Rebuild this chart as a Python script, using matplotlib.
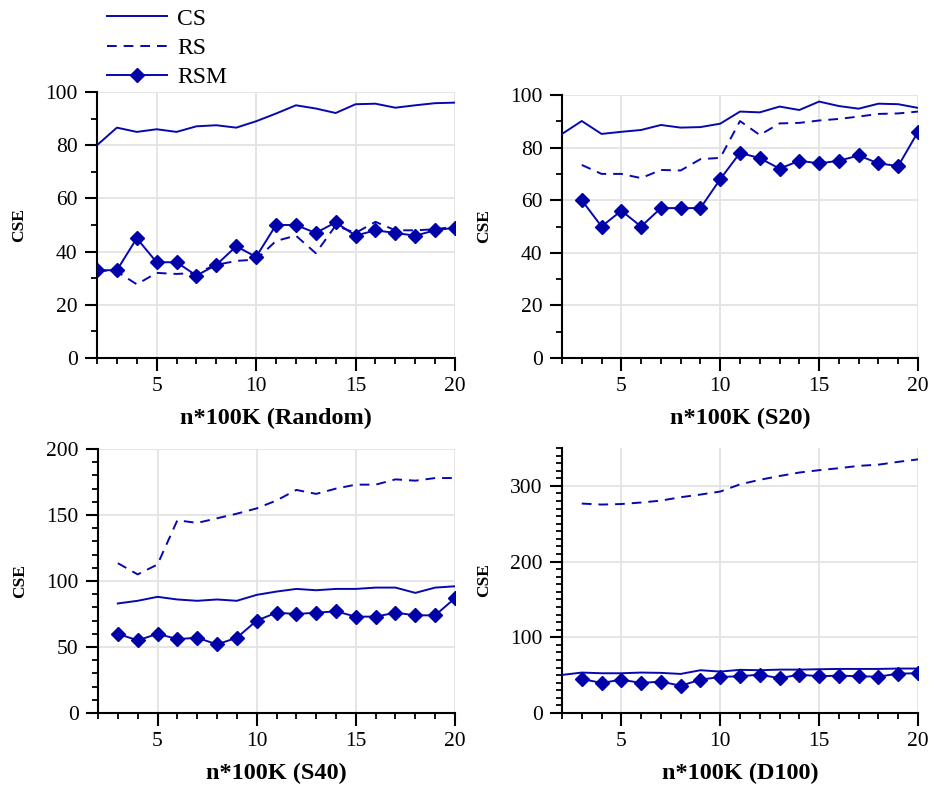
import matplotlib
matplotlib.use("Agg")
import matplotlib.pyplot as plt
from matplotlib.ticker import MultipleLocator
from matplotlib.lines import Line2D

plt.rcParams['font.family'] = ['Liberation Serif', 'DejaVu Serif']
plt.rcParams['lines.scale_dashes'] = False

x_all = list(range(2, 21))
x_from3 = list(range(3, 21))

# Panel 1: Random
rand_cs = [80, 86.6, 85, 86, 85, 87.1, 87.5, 86.6, 89, 91.9, 95, 93.8, 92.1, 95.4, 95.6, 94.1, 95, 95.8, 96]
rand_rs = [33, 32.5, 27.7, 32, 31.6, 32, 35, 36.5, 37, 44, 46, 39.4, 49.8, 47, 51.2, 48, 48, 48.4, 49.4]
rand_rsm = [33, 33, 45, 36, 36, 31, 35, 42, 38, 50, 50, 47, 51, 46, 48, 47, 46, 48, 49]

# Panel 2: S20
s20_cs = [85.2, 90.1, 85.2, 86, 86.7, 88.6, 87.6, 87.8, 89.1, 93.7, 93.4, 95.6, 94.3, 97.5, 95.8, 94.8, 96.7, 96.5, 95.1]
s20_rs = [73.4, 70, 70, 68.4, 71.5, 71.3, 75.6, 76.1, 90.1, 84.8, 89.2, 89.4, 90.3, 90.9, 91.8, 92.8, 93, 93.7]
s20_rsm = [60, 50, 56, 50, 57, 57, 57, 68, 78, 76, 72, 75, 74, 75, 77, 74, 73, 86]

# Panel 3: S40
s40_cs = [83, 85, 88, 86, 85, 86, 85, 89.5, 92, 94, 93, 94, 94, 95, 95, 91, 95, 96]
s40_rs = [113.5, 105, 112.5, 146, 144, 147.5, 151, 155, 161, 169, 166, 170, 173, 173, 177, 176, 178, 178]
s40_rsm = [60, 55, 60, 56, 57, 52, 57, 70, 76, 75, 76, 77, 73, 73, 76, 74, 74, 87]

# Panel 4: D100
d100_cs = [50.3, 53.4, 52.5, 52.5, 53.4, 53, 51.6, 56.5, 54.7, 57, 56.5, 57.3, 57.3, 57.8, 58.2, 58.2, 58.2, 58.7, 58.7]
d100_rs = [276.6, 275.3, 276, 278, 280.5, 285, 288.5, 292.5, 302, 308, 313, 317.6, 320.7, 323.3, 326.4, 328, 331.7, 335]
d100_rsm = [45, 39.7, 44, 39.7, 41.5, 36, 44, 47.6, 48.5, 50.7, 45.9, 50.7, 48.5, 49.4, 48.5, 48, 52, 52.5]

xlabels = ["n*100K (Random)", "n*100K (S20)", "n*100K (S40)", "n*100K (D100)"]
ylabel = "CSE"
legend_labels = ["CS", "RS", "RSM"]

COLOR = '#0707b0'
MCOLOR = '#0000a8'
DASH = (0, (7, 5))

W, H = 934, 789
fig = plt.figure(figsize=(W / 100, H / 100), dpi=100)

def rect(l, r, t, b):
    return [l / W, 1 - b / H, (r - l) / W, (b - t) / H]

panels = [
    dict(rect=rect(97, 455, 92, 358), cs=(x_all, rand_cs), rs=(x_all, rand_rs), rsm=(x_all, rand_rsm),
         ylim=(0, 100), major=20, minor=10),
    dict(rect=rect(562, 918, 95, 358), cs=(x_all, s20_cs), rs=(x_from3, s20_rs), rsm=(x_from3, s20_rsm),
         ylim=(0, 100), major=20, minor=10),
    dict(rect=rect(98, 455, 449, 713), cs=(x_from3, s40_cs), rs=(x_from3, s40_rs), rsm=(x_from3, s40_rsm),
         ylim=(0, 200), major=50, minor=10),
    dict(rect=rect(562, 918, 448, 713), cs=(x_all, d100_cs), rs=(x_from3, d100_rs), rsm=(x_from3, d100_rsm),
         ylim=(0, 350), major=100, minor=10),
]

for p, xl in zip(panels, xlabels):
    ax = fig.add_axes(p['rect'])
    ax.plot(*p['cs'], color=COLOR, lw=1.4, zorder=3)
    ax.plot(*p['rs'], color=COLOR, lw=1.4, linestyle=DASH, zorder=3)
    ax.plot(*p['rsm'], color=COLOR, lw=1.4, marker='D', markersize=6.8,
            markerfacecolor=MCOLOR, markeredgecolor=MCOLOR, zorder=4)
    ax.set_xlim(2, 20)
    ax.set_ylim(*p['ylim'])
    ax.xaxis.set_major_locator(MultipleLocator(5))
    ax.xaxis.set_minor_locator(MultipleLocator(1))
    ax.yaxis.set_major_locator(MultipleLocator(p['major']))
    ax.yaxis.set_minor_locator(MultipleLocator(p['minor']))
    ax.grid(True, which='major', color='#e3e3e3', lw=1.3, zorder=0)
    ax.set_axisbelow(True)
    for s in ['top', 'right']:
        ax.spines[s].set_visible(False)
    for s in ['left', 'bottom']:
        ax.spines[s].set_linewidth(1.5)
        ax.spines[s].set_color('black')
    ax.tick_params(which='major', length=9, width=1.5, labelsize=15.5, pad=5, direction='out')
    ax.tick_params(which='minor', length=4, width=1.3, direction='out')
    ax.set_xlabel(xl, fontsize=17.5, fontweight='bold', labelpad=8)
    ax.set_ylabel(ylabel, fontsize=12.5, fontweight='bold', labelpad=13)

handles = [
    Line2D([], [], color=COLOR, lw=1.4),
    Line2D([], [], color=COLOR, lw=1.4, linestyle=DASH),
    Line2D([], [], color=COLOR, lw=1.4, marker='D', markersize=6.8,
           markerfacecolor=MCOLOR, markeredgecolor=MCOLOR),
]
fig.legend(handles, legend_labels, loc='upper left', bbox_to_anchor=(107 / W, 1 - 8 / H),
           frameon=False, fontsize=17, handlelength=2.55, handletextpad=0.42, labelspacing=0.33,
           borderaxespad=0, borderpad=0)

fig.savefig('out.png', dpi=100)
